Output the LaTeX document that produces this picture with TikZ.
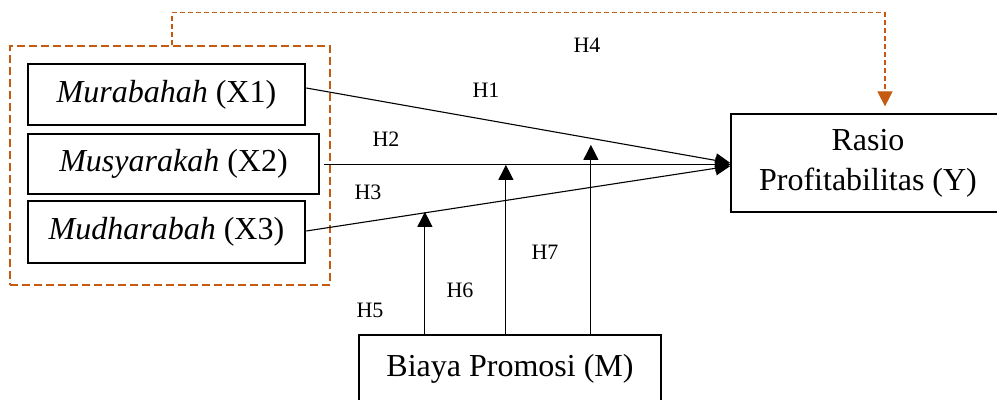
\documentclass[tikz,border=0pt]{standalone}
\usepackage{fontspec}
\setmainfont{Liberation Serif}
\usetikzlibrary{arrows.meta,calc}
\definecolor{dorange}{RGB}{197,90,17}
\begin{document}
\begin{tikzpicture}[x=0.5pt,y=-0.5pt,
  xbox/.style={draw, line width=1.3pt, inner sep=0pt, font=\fontsize{16}{20}\selectfont},
  ybox/.style={draw, line width=0.6pt, inner sep=0pt, align=center, font=\fontsize{16}{20}\selectfont},
  mbox/.style={draw, line width=1.1pt, inner sep=0pt, font=\fontsize{16}{20}\selectfont},
  groupbox/.style={draw=dorange, line width=1.1pt, dash pattern=on 4pt off 2pt, inner sep=0pt},
  hlabel/.style={inner sep=0pt, font=\fontsize{11}{13}\selectfont},
  conn/.style={line width=0.55pt, -{Triangle[length=7.5pt,width=7pt]}},
  vconn/.style={line width=0.55pt, -{Triangle[length=7.5pt,width=7.5pt]}},
  dconn/.style={draw=dorange, line width=0.6pt, dash pattern=on 2.5pt off 1.5pt, -{Triangle[length=7.5pt,width=7.5pt,fill=dorange]}}
]
\useasboundingbox (0,0) rectangle (997,400);

\node[groupbox, minimum width=160pt, minimum height=119.5pt] (g) at (170,165.5) {};
\node[xbox, minimum width=138.5pt, minimum height=30.5pt] (x1) at (166.5,94.5) {\textit{Murabahah} (X1)};
\node[xbox, minimum width=145.5pt, minimum height=30pt] (x2) at (173.5,164) {\textit{Musyarakah} (X2)};
\node[xbox, minimum width=138.5pt, minimum height=31pt] (x3) at (166.5,232) {\textit{Mudharabah} (X3)};

\node[ybox, minimum width=137pt, minimum height=49pt] (y) at (868,163) {Rasio\\Profitabilitas (Y)};
\node[mbox, minimum width=151pt, minimum height=33.5pt] (m) at (510,368.5) {Biaya Promosi (M)};

\draw[conn] ($(x1.east)+(0,-6.5)$) -- (y.west);
\draw[conn] ($(x2.east)+(4,0.5)$) -- ($(x2.east -| y.west)+(0,0.5)$);
\draw[conn] ($(x3.east)+(0,-1)$) -- ($(y.west)+(0,3)$);

\draw[vconn] ($(m.north west)+(67,0)$) -- ++(0,-122);
\draw[vconn] ($(m.north west)+(148,0)$) -- ++(0,-169);
\draw[vconn] ($(m.north west)+(233,0)$) -- ++(0,-189);

\coordinate (h4end) at ($(y.north)+(17,-7)$);
\draw[dconn] ($(g.north west)+(163,0)$) -- ++(0,-32) -| (h4end);

\node[hlabel] (h1) at (486,90) {H1};
\node[hlabel] (h2) at (386,139) {H2};
\node[hlabel] (h3) at (368,192) {H3};
\node[hlabel] (h4) at (587,45) {H4};
\node[hlabel] (h5) at (370,310) {H5};
\node[hlabel] (h6) at (460,290) {H6};
\node[hlabel] (h7) at (545,252) {H7};
\end{tikzpicture}
\end{document}
